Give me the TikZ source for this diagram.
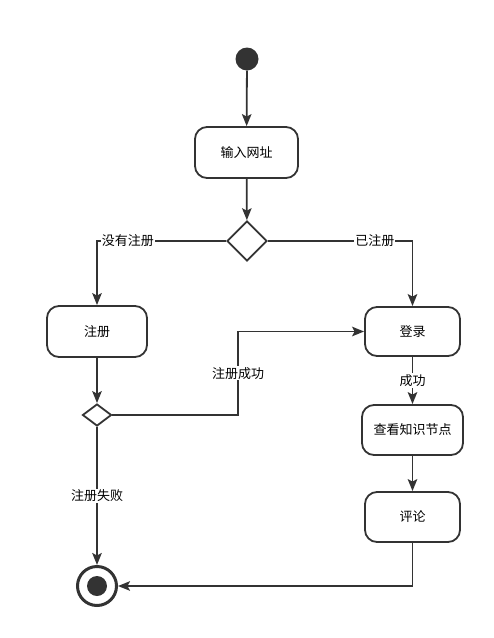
\documentclass[tikz,border=0pt]{standalone}
\usepackage{fontspec}
\newfontfamily\cjk{Noto Sans CJK SC}
\usetikzlibrary{shapes.geometric,arrows.meta}

\begin{document}
\begin{tikzpicture}[x=1pt,y=-1pt,
  act/.style={draw=c1,line width=1.8pt,rounded corners=12pt,minimum width=100pt,minimum height=50pt,inner sep=0pt,font=\cjk\fontsize{13}{15}\selectfont},
  dec/.style={diamond,draw=c1,line width=1.8pt,fill=white,inner sep=0pt},
  lab/.style={fill=white,inner sep=1pt,font=\cjk\fontsize{13}{15}\selectfont},
  flow/.style={draw=c1,line width=1.8pt,-{Stealth[length=12pt,width=9.5pt,inset=2.5pt]}}]
\definecolor{c1}{HTML}{333333}

\useasboundingbox (0,0) rectangle (494,638);

% nodes
\node[circle,fill=c1,minimum size=23pt,inner sep=0pt] (start) at (247,59) {};
\node[act,minimum width=103pt,minimum height=51pt] (url) at (246.5,152.5) {输入网址};
\node[dec,minimum width=40pt,minimum height=40pt] (d1) at (247,241) {};
\node[act,minimum height=51pt] (reg) at (97,331.5) {注册};
\node[dec,minimum width=29pt,minimum height=22pt] (d2) at (97,415) {};
\node[act,minimum width=95pt,minimum height=49pt] (login) at (412.5,331.5) {登录};
\node[act,minimum width=101pt] (view) at (412.5,430) {查看知识节点};
\node[act,minimum width=95pt] (comment) at (412.5,517) {评论};
\node[circle,draw=c1,line width=3pt,minimum size=39pt,inner sep=0pt] (end) at (97,586) {};
\fill[c1] (end.center) circle (10pt);
\coordinate (bend) at (238,331.5);

% flows
\draw[flow] (start) -- (url);
\draw[flow] (url) -- (d1);
\draw[flow] (d1.west) -| node[lab,pos=0.38] {没有注册} (reg);
\draw[flow] (d1.east) -| node[lab,pos=0.37] {已注册} (login);
\draw[flow] (reg) -- (d2);
\draw[flow] (d2.east) -| node[lab,pos=0.75] {注册成功} (bend) -- (login.west);
\draw[flow] (d2) -- node[lab] {注册失败} (end);
\draw[flow] (login) -- node[lab] {成功} (view);
\draw[flow] (view) -- (comment);
\draw[flow] (comment.south) |- (end.east);
\end{tikzpicture}
\end{document}
